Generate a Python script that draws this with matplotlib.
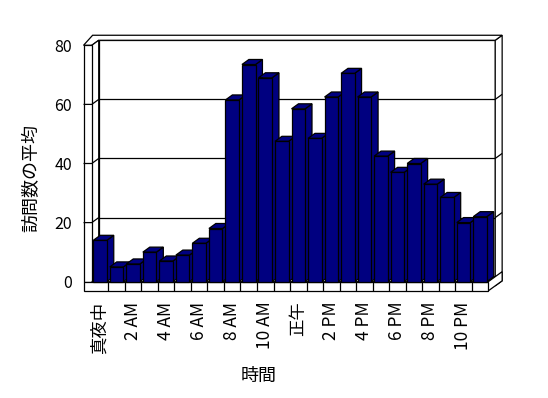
import matplotlib
matplotlib.use('Agg')
import matplotlib.pyplot as plt
from matplotlib.patches import Polygon, Rectangle

plt.rcParams['font.family'] = ['Noto Sans CJK JP', 'DejaVu Sans']

# data: average visits per hour of day
hours = list(range(24))
visits = [14, 5, 6, 10, 7, 9, 13, 18, 61.5, 73.5, 69, 47.5,
          58.5, 48.5, 62.5, 70.5, 62.5, 42.5, 37, 40, 33, 28.5, 20, 22]
tick_pos = hours[::2]
tick_labels = ['真夜中', '2 AM', '4 AM', '6 AM', '8 AM', '10 AM',
               '正午', '2 PM', '4 PM', '6 PM', '8 PM', '10 PM']
y_ticks = [0, 20, 40, 60, 80]
x_title = '時間'
y_title = '訪問数の平均'

NAVY = '#000080'
LW = 0.9

# place the axes so data units land where the reference draws them
W, H = 548, 398
x_px0, x_step = 100.05, 16.52
y_px0, y_step = 281.7, 2.955
xlim = (-1.5, 24.5)
ylim = (-5, 84)
fig = plt.figure(figsize=(W / 100, H / 100), dpi=100)
left = (x_px0 + x_step * xlim[0]) / W
right = (x_px0 + x_step * xlim[1]) / W
bottom = 1 - (y_px0 - y_step * ylim[0]) / H
top = 1 - (y_px0 - y_step * ylim[1]) / H
ax = fig.add_axes([left, bottom, right - left, top - bottom])
ax.set_xlim(*xlim)
ax.set_ylim(*ylim)
ax.patch.set_visible(False)
for s in ax.spines.values():
    s.set_visible(False)

# 3d box geometry (oblique depth offset)
DX, DY = 0.42, 1.7
x_lo, x_hi = -0.5, 23.5
wall = 0.5
floor_th = 3.1
ymax = y_ticks[-1]


def poly(pts, z, fc='white'):
    ax.add_patch(Polygon(pts, closed=True, fc=fc, ec='black', lw=LW,
                         zorder=z, joinstyle='miter'))


def line(xs, ys, z):
    ax.plot(xs, ys, color='black', lw=LW, zorder=z, solid_capstyle='butt')


# back wall
ax.add_patch(Rectangle((x_lo + DX, DY), x_hi - x_lo, ymax, fc='white',
                       ec='black', lw=LW, zorder=1))
for v in y_ticks[1:-1]:
    line([x_lo + DX, x_hi + DX], [v + DY, v + DY], 1.1)
# right edge of the back wall slab
poly([(x_hi + DX, DY - floor_th), (x_hi + DX, ymax + DY),
      (x_hi + 2 * DX, ymax + 2 * DY), (x_hi + 2 * DX, 2 * DY - floor_th)], 1)
for v in y_ticks[1:-1]:
    line([x_hi + DX, x_hi + 2 * DX], [v + DY, v + 2 * DY], 1.1)
# top of back wall + left wall
poly([(x_lo - wall, ymax), (x_lo, ymax), (x_lo + DX, ymax + DY),
      (x_hi + DX, ymax + DY), (x_hi + 2 * DX, ymax + 2 * DY),
      (x_lo - wall + 0.55, ymax + 2 * DY)], 1)
# left wall inner face and front edge
poly([(x_lo, 0), (x_lo, ymax), (x_lo + DX, ymax + DY), (x_lo + DX, DY)], 1.2)
ax.add_patch(Rectangle((x_lo - wall, 0), wall, ymax, fc='white',
                       ec='black', lw=LW, zorder=1.2))
for v in y_ticks[1:-1]:
    line([x_lo - wall, x_lo, x_lo + DX], [v, v, v + DY], 1.3)

# floor
poly([(x_lo, 0), (x_hi, 0), (x_hi + DX, DY), (x_lo + DX, DY)], 1.5)
poly([(x_hi, -floor_th), (x_hi + 2 * DX, -floor_th + 2 * DY),
      (x_hi + 2 * DX, 2 * DY), (x_hi, 0)], 1.5)
ax.add_patch(Rectangle((x_lo - wall, -floor_th), x_hi - x_lo + wall,
                       floor_th, fc='white', ec='black', lw=LW, zorder=1.5))
for k in hours[:-1]:
    line([k + 0.5, k + 0.5], [-floor_th, 0], 1.6)

# bars: front faces via ax.bar, side and top faces from the same values
BW = 0.82
bars = ax.bar(hours, visits, width=BW, color=NAVY, edgecolor='black',
              linewidth=LW)
for i, (h, v, b) in enumerate(zip(hours, visits, bars)):
    z = 3 + 0.02 * i
    r = h + BW / 2
    l = h - BW / 2
    poly([(r, 0), (r + DX, DY), (r + DX, v + DY), (r, v)], z, NAVY)
    poly([(l, v), (r, v), (r + DX, v + DY), (l + DX, v + DY)], z, NAVY)
    b.set_zorder(z + 0.01)
    b.set_joinstyle('miter')

# ticks and labels
ax.set_xticks(tick_pos, tick_labels, rotation=90, fontsize=12.5)
ax.set_yticks(y_ticks, [str(t) for t in y_ticks], fontsize=11.5)
ax.tick_params(axis='x', length=0, pad=3.7)
ax.tick_params(axis='y', length=0, pad=2.4)

ax.set_xlabel(x_title, fontsize=13)
ax.xaxis.set_label_coords((259 - W * left) / (W * (right - left)),
                          (H * (1 - bottom) - 376) / (H * (top - bottom)))
ax.xaxis.label.set_va('center')
ax.set_ylabel(y_title, fontsize=13)
ax.yaxis.set_label_coords((31 - W * left) / (W * (right - left)),
                          (H * (1 - bottom) - 178) / (H * (top - bottom)))
ax.yaxis.label.set_va('center')

fig.savefig('out.png', dpi=100)
